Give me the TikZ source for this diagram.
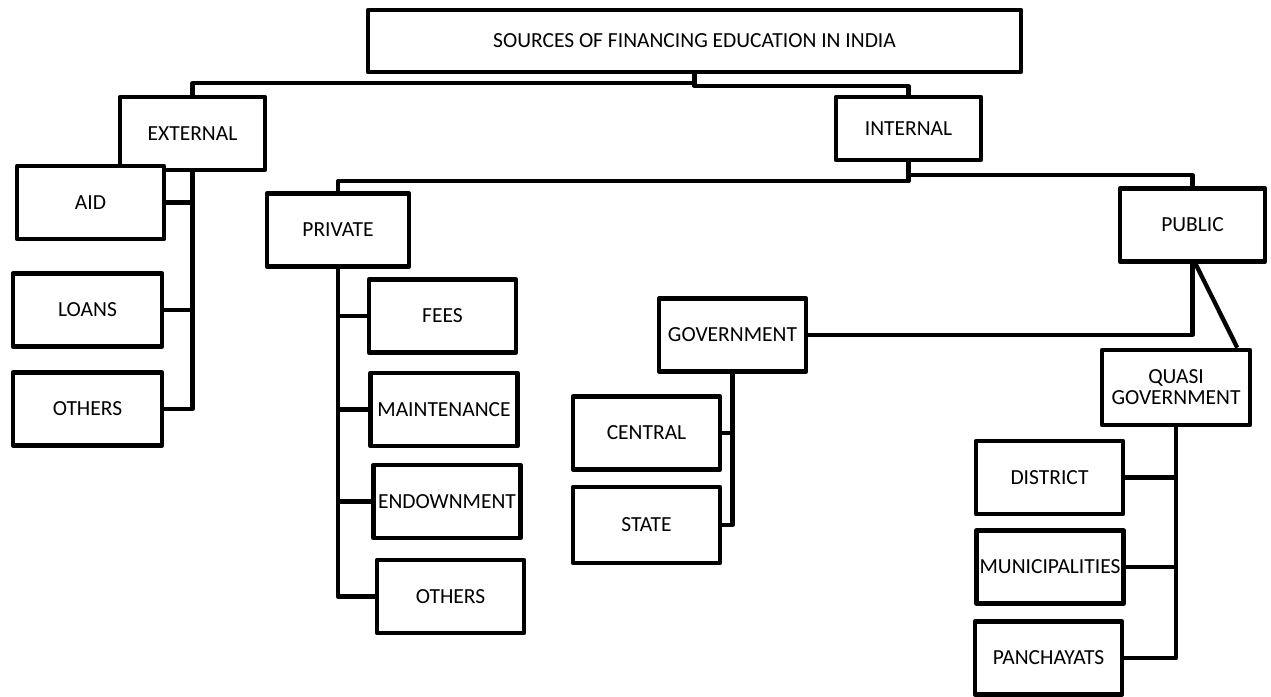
\documentclass[tikz,border=0pt]{standalone}
\usepackage{fontspec}
\setmainfont{Carlito}

\begin{document}
\begin{tikzpicture}[x=1pt,y=-1pt,line width=4.3pt,line join=round]
            \useasboundingbox (0,0) rectangle (1271,696);
            \begin{scope}[every node/.style={rectangle,draw=black,line width=4.6pt,fill=white,inner sep=0pt,minimum width=147pt,minimum height=73pt,align=center,font=\fontsize{21.5}{21}\selectfont}]
                \node[minimum width=653pt,minimum height=62pt,line width=4.6pt] (title) at (694.5,41) {SOURCES OF FINANCING EDUCATION IN INDIA};
                \node[minimum width=145pt] (ext) at (192.5,133.5) {EXTERNAL};
                \node[minimum width=145pt,minimum height=63pt] (int) at (908.5,128.5) {INTERNAL};
                \node (aid) at (90.5,202.5) {AID};
                \node[minimum width=149pt] (loans) at (87.5,310) {LOANS};
                \node[minimum width=149pt] (oth1) at (87.5,409) {OTHERS};
                \node[minimum width=142pt] (priv) at (338,230) {PRIVATE};
                \node[minimum width=145pt] (pub) at (1192.5,225) {PUBLIC};
                \node (fees) at (442.5,316) {FEES};
                \node (maint) at (444,409.5) {MAINTENANCE};
                \node (endow) at (447,501.5) {ENDOWNMENT};
                \node (oth2) at (450.5,596.5) {OTHERS};
                \node (gov) at (732.5,335) {GOVERNMENT};
                \node (central) at (646.5,433) {CENTRAL};
                \node[minimum height=76pt] (state) at (646.5,525) {STATE};
                \node[minimum width=148pt,minimum height=75pt] (quasi) at (1176,387.5) {QUASI\\GOVERNMENT};
                \node (district) at (1049.5,477.5) {DISTRICT};
                \node (munic) at (1050,567) {MUNICIPALITIES};
                \node (panch) at (1048.5,658) {PANCHAYATS};
            \end{scope}
            \draw (title.south) -- ++(0,12) -| (int.north);
            \draw (title.south) ++(0,9) -| (ext.north);
            \draw (int.south) -- ++(0,19) -| (priv.north);
            \draw (int.south) ++(0,13) -| (pub.north);
            \draw (ext.south) |- (oth1.east);
            \draw (aid.east) -- (aid.east -| ext.south);
            \draw (loans.east) -- (loans.east -| ext.south);
            \draw (priv.south) |- (oth2.west);
            \foreach \n in {fees,maint,endow}
                \draw (\n.west) -- (\n.west -| priv.south);
            \draw (pub.south) |- (gov.east);
            \draw ([xshift=3pt]pub.south) -- (quasi.33);
            \draw (gov.south) |- (state.east);
            \draw (central.east) -- (central.east -| gov.south);
            \draw (quasi.south) |- (panch.east);
            \draw (district.east) -- (district.east -| quasi.south);
            \draw (munic.east) -- (munic.east -| quasi.south);
        \end{tikzpicture}
\end{document}
